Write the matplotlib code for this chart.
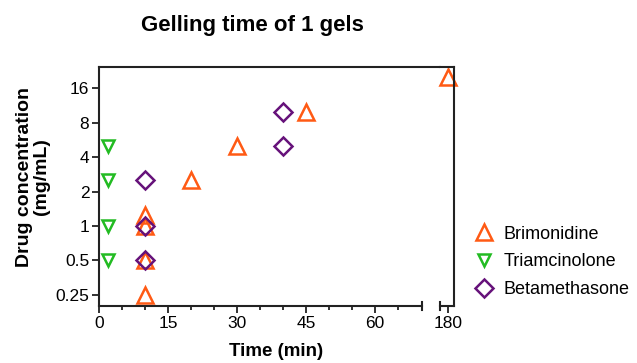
import matplotlib
matplotlib.use("Agg")
import matplotlib.pyplot as plt
import matplotlib.transforms as mtransforms

plt.rcParams['font.family'] = ['Liberation Sans', 'DejaVu Sans']

# Data
brim_x = [10, 10, 10, 10, 20, 30, 45, 180]
brim_y = [0.25, 0.5, 1, 1.25, 2.5, 5, 10, 20]
tria_x = [2, 2, 2, 2]
tria_y = [0.5, 1, 2.5, 5]
beta_x = [10, 10, 10, 40, 40]
beta_y = [0.5, 1, 2.5, 5, 10]

yticks = [0.25, 0.5, 1, 2, 4, 8, 16]
ytick_labels = ["0.25", "0.5", "1", "2", "4", "8", "16"]
xticks1 = [0, 15, 30, 45, 60]
xticks2 = [180]

c_brim = '#FF5A14'
c_tria = '#22BB22'
c_beta = '#66127A'

W, H = 637, 363
fig = plt.figure(figsize=(W / 100, H / 100), dpi=100)

def fx(px):
    return px / W

def fy(py):
    return 1 - py / H

top, bot = 67, 306
ax1 = fig.add_axes([fx(99), fy(bot), fx(440 - 99), fy(top) - fy(bot)])
ax2 = fig.add_axes([fx(440), fy(bot), fx(454 - 440), fy(top) - fy(bot)], sharey=ax1)

x1max = (440 - 99) / 4.6
ax1.set_xlim(0, x1max)
ax2.set_xlim(177.3, 180 + 10 / 4.6)

series = [
    (brim_x, brim_y, '^', c_brim, 'Brimonidine', 11),
    (tria_x, tria_y, 'v', c_tria, 'Triamcinolone', 9),
    (beta_x, beta_y, 'D', c_beta, 'Betamethasone', 9),
]
handles = []
for xs, ys, m, c, lab, ms in series:
    for ax in (ax1, ax2):
        lo, hi = ax.get_xlim()
        px = [x for x in xs if lo <= x <= hi]
        py = [y for x, y in zip(xs, ys) if lo <= x <= hi]
        h, = ax.plot(px, py, linestyle='none', marker=m, markersize=ms,
                     markerfacecolor='none', markeredgecolor=c,
                     markeredgewidth=1.8, label=lab, clip_on=False)
        if ax is ax1:
            handles.append(h)

ax1.set_yscale('log', base=2)
ax1.set_ylim(0.2, 24.5)
ax1.set_yticks(yticks)
ax1.set_yticklabels(ytick_labels)
ax1.yaxis.set_minor_locator(matplotlib.ticker.NullLocator())

ax1.set_xticks(xticks1)
ax1.set_xticks([5, 10, 20, 25, 35, 40, 50, 55, 65], minor=True)
ax2.set_xticks(xticks2)
ax2.xaxis.set_minor_locator(matplotlib.ticker.NullLocator())

for ax in (ax1, ax2):
    for s in ax.spines.values():
        s.set_linewidth(1.5)
        s.set_color('#222222')
    ax.tick_params(axis='both', which='major', length=5, width=1.3,
                   labelsize=12.5, direction='out', color='#222222', pad=2)
    ax.tick_params(axis='both', which='minor', length=3, width=1.3,
                   direction='out', color='#222222')

ax1.spines['right'].set_visible(False)
ax1.spines['bottom'].set_bounds(0, 70.3)
ax2.spines['left'].set_visible(False)
ax2.tick_params(axis='y', which='both', left=False, labelleft=False)

# break caps
trans1 = mtransforms.blended_transform_factory(ax1.transData, ax1.transAxes)
ax1.plot([70.3, 70.3], [-0.018, 0.018], color='#222222', lw=1.5,
         transform=trans1, clip_on=False)
trans2 = mtransforms.blended_transform_factory(ax2.transAxes, ax2.transAxes)
ax2.plot([0.0, 0.0], [-0.018, 0.018], color='#222222', lw=1.5,
         transform=trans2, clip_on=False)

fig.text(fx(33), fy(177), "Drug concentration\n(mg/mL)", fontsize=14,
         fontweight='bold', linespacing=1.05, rotation=90,
         ha='center', va='center')
fig.text(fx(276), fy(352), "Time (min)", fontsize=13.5, fontweight='bold',
         ha='center', va='center')
fig.text(fx(252), fy(25), "Gelling time of 1 gels", fontsize=16,
         fontweight='bold', ha='center', va='center')

fig.legend(handles=handles, loc='center left',
           bbox_to_anchor=(fx(468), fy(262)), frameon=False,
           fontsize=13, handlelength=1.0, handletextpad=0.55,
           labelspacing=0.6, borderaxespad=0)

fig.savefig('out.png', dpi=100)
